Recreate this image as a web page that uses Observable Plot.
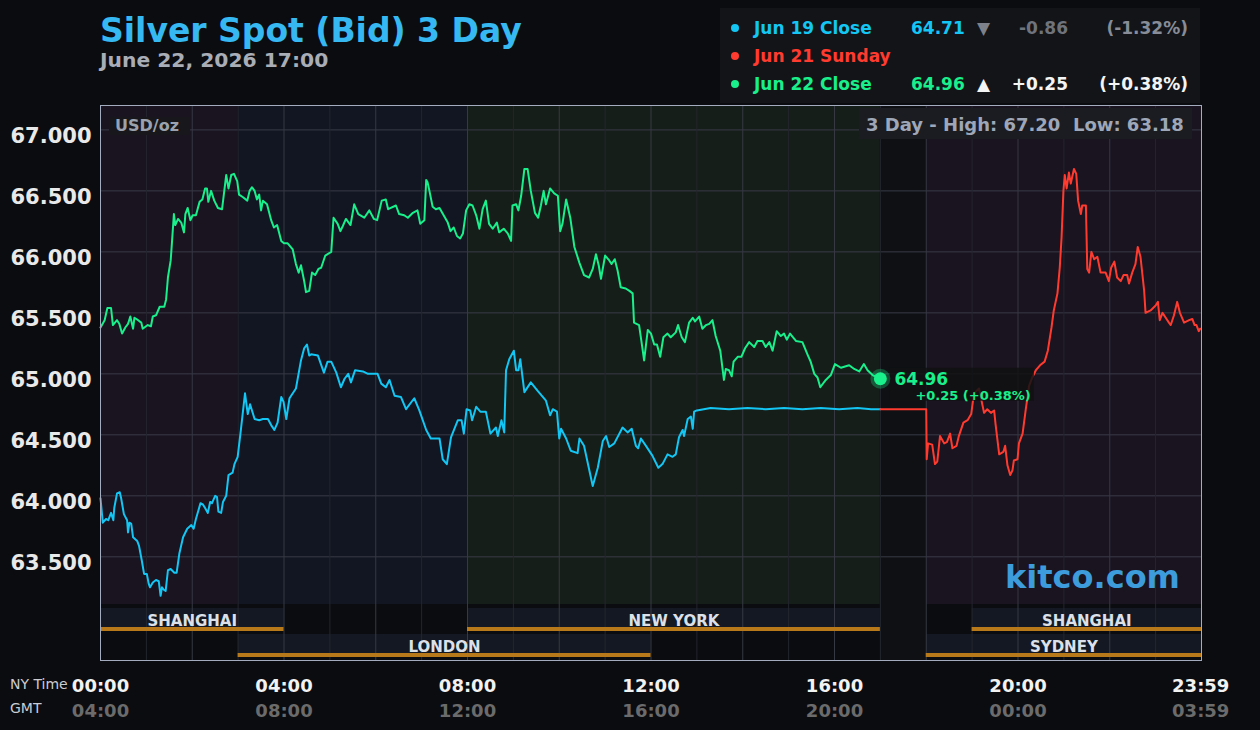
<!DOCTYPE html>
<html><head><meta charset="utf-8">
<script src="https://cdn.jsdelivr.net/npm/d3@7"></script>
<script src="https://cdn.jsdelivr.net/npm/@observablehq/plot@0.6"></script>
<style>
html,body{margin:0;padding:0;background:#0b0c10;}
#wrap{position:relative;width:1260px;height:730px;font-family:"DejaVu Sans",sans-serif;overflow:hidden;background:#0b0c10;}
#wrap svg{position:absolute;left:0;top:0;}
.abs{position:absolute;white-space:pre;box-sizing:border-box;}
</style></head><body><div id="wrap"></div>
<script>
// ---------- DATA ----------
const titleText = "Silver Spot (Bid) 3 Day";
const subtitleText = "June 22, 2026 17:00";
const unitLabel = "USD/oz";
const threeDayHigh = 67.20, threeDayLow = 63.18;

const seriesNames = ["Jun 19 Close", "Jun 21 Sunday", "Jun 22 Close"];
const seriesCloses = ["64.71", "", "64.96"];
const seriesChanges = ["-0.86", "", "+0.25"];
const seriesPercents = ["(-1.32%)", "", "(+0.38%)"];

const yTicks = [63.5, 64.0, 64.5, 65.0, 65.5, 66.0, 66.5, 67.0];
const xTickHours = [0, 4, 8, 12, 16, 20, 23.983];
const nyTickLabels = ["00:00", "04:00", "08:00", "12:00", "16:00", "20:00", "23:59"];
const gmtTickLabels = ["04:00", "08:00", "12:00", "16:00", "20:00", "00:00", "03:59"];

const zoneNames = ["Asia", "London", "New York", "Closed", "Asia"];
const zoneStart = [0, 3, 8, 17, 18];
const zoneEnd = [3, 8, 17, 18, 24];

const sessionRow1Names = ["SHANGHAI", "NEW YORK", "SHANGHAI"];
const sessionRow1Start = [0, 8, 19];
const sessionRow1End = [4, 17, 24];
const sessionRow2Names = ["LONDON", "SYDNEY"];
const sessionRow2Start = [3, 18];
const sessionRow2End = [12, 24];

// Jun 19 (hours NY time, price)
const jun19Hours = [0.00,0.05,0.12,0.17,0.23,0.28,0.30,0.36,0.42,0.45,
0.51,0.58,0.60,0.63,0.67,0.71,0.80,0.84,0.90,0.95,
1.01,1.05,1.08,1.14,1.21,1.27,1.31,1.34,1.38,1.42,
1.47,1.53,1.61,1.66,1.72,1.80,1.89,1.98,2.03,2.08,
2.18,2.23,2.28,2.34,2.39,2.43,2.50,2.54,2.57,2.63,
2.67,2.74,2.79,2.88,2.92,2.99,3.06,3.15,3.21,3.26,
3.36,3.46,3.54,3.65,3.72,3.79,3.86,3.94,3.99,4.05,
4.12,4.26,4.37,4.44,4.50,4.55,4.59,4.74,4.87,4.95,
5.03,5.14,5.24,5.32,5.40,5.46,5.55,5.72,5.83,6.04,
6.12,6.22,6.30,6.41,6.55,6.66,6.84,6.95,7.10,7.20,
7.39,7.46,7.55,7.64,7.79,7.87,7.92,7.98,8.06,8.10,
8.19,8.28,8.40,8.50,8.62,8.66,8.74,8.80,8.84,8.91,
9.01,9.06,9.11,9.15,9.24,9.38,9.53,9.71,9.80,9.86,
9.95,10.00,10.04,10.15,10.25,10.40,10.44,10.54,10.73,10.84,
10.95,11.02,11.09,11.20,11.38,11.49,11.58,11.67,11.72,11.78,
11.89,12.03,12.16,12.25,12.36,12.47,12.54,12.61,12.69,12.72,
12.80,12.87,12.91,12.94,13.00,
13.3,13.7,14.1,14.5,14.9,15.3,15.7,16.1,16.5,16.8,17.00];
const jun19Values = [63.98,63.78,63.81,63.80,63.86,63.80,63.90,64.02,64.03,63.98,
63.85,63.80,63.70,63.78,63.77,63.66,63.63,63.59,63.47,63.36,
63.36,63.28,63.25,63.29,63.31,63.30,63.18,63.25,63.23,63.22,
63.39,63.40,63.37,63.37,63.53,63.66,63.73,63.76,63.73,63.81,
63.94,63.93,63.90,63.86,63.95,63.94,64.00,63.99,63.87,63.86,
63.95,64.00,64.17,64.19,64.26,64.32,64.54,64.84,64.67,64.75,
64.63,64.62,64.63,64.63,64.58,64.54,64.60,64.81,64.77,64.63,
64.80,64.88,65.11,65.21,65.24,65.15,65.16,65.15,65.01,65.10,
65.10,65.01,64.89,64.96,65.00,64.93,65.03,65.02,65.00,65.00,
64.92,64.89,64.95,64.82,64.81,64.71,64.80,64.70,64.54,64.47,
64.47,64.30,64.26,64.48,64.62,64.62,64.51,64.71,64.70,64.62,
64.73,64.69,64.69,64.51,64.56,64.49,64.62,64.52,65.03,65.12,
65.19,65.03,65.03,65.12,64.85,64.93,64.86,64.78,64.66,64.71,
64.69,64.47,64.55,64.47,64.37,64.35,64.47,64.41,64.08,64.23,
64.45,64.49,64.40,64.43,64.56,64.52,64.55,64.41,64.39,64.47,
64.41,64.33,64.23,64.26,64.34,64.32,64.34,64.48,64.54,64.49,
64.63,64.65,64.55,64.69,64.70,
64.72,64.71,64.72,64.71,64.72,64.71,64.72,64.71,64.72,64.71,64.71];

// Jun 21 Sunday
const jun21Hours = [17.00,18.00,18.01,18.04,18.13,18.19,18.24,18.30,18.39,18.45,
18.52,18.57,18.66,18.71,18.81,18.90,18.98,19.04,19.15,19.26,
19.33,19.41,19.48,19.51,19.59,19.68,19.72,19.77,19.83,19.88,
19.91,19.99,20.02,20.10,20.17,20.24,20.31,20.39,20.48,20.58,
20.65,20.73,20.78,20.86,20.91,20.95,20.99,21.02,21.06,21.11,
21.15,21.22,21.27,21.31,21.37,21.40,21.48,21.51,21.55,21.60,
21.66,21.73,21.80,21.91,21.98,22.03,22.10,22.16,22.24,22.30,
22.38,22.42,22.49,22.56,22.61,22.67,22.75,22.78,22.89,23.00,
23.05,23.09,23.15,23.22,23.29,23.33,23.40,23.47,23.53,23.62,
23.73,23.80,23.85,23.89,23.94,23.97];
const jun21Values = [64.71,64.71,64.30,64.43,64.42,64.26,64.28,64.49,64.43,64.44,
64.51,64.39,64.41,64.49,64.60,64.62,64.67,64.84,64.88,64.68,
64.71,64.68,64.70,64.59,64.34,64.36,64.41,64.25,64.17,64.21,
64.29,64.30,64.43,64.51,64.71,64.90,64.97,65.03,65.07,65.10,
65.19,65.38,65.52,65.66,65.87,66.12,66.50,66.63,66.52,66.65,
66.56,66.68,66.64,66.42,66.31,66.38,66.38,65.86,65.83,66.00,
65.94,65.96,65.83,65.83,65.76,65.87,65.92,65.79,65.76,65.81,
65.81,65.74,65.83,65.90,66.04,65.96,65.68,65.50,65.52,65.56,
65.59,65.44,65.50,65.46,65.42,65.40,65.48,65.59,65.50,65.42,
65.44,65.45,65.40,65.40,65.35,65.37];

// Jun 22
const jun22Hours = [0.00,0.09,0.15,0.23,0.27,0.36,0.41,0.47,0.54,0.60,
0.65,0.71,0.74,0.82,0.89,0.92,1.03,1.10,1.14,1.21,
1.29,1.39,1.43,1.47,1.53,1.56,1.60,1.63,1.69,1.76,
1.82,1.85,1.90,1.96,2.01,2.08,2.16,2.22,2.28,2.32,
2.35,2.41,2.48,2.56,2.65,2.74,2.79,2.85,2.91,2.98,
3.02,3.10,3.20,3.25,3.30,3.36,3.41,3.46,3.50,3.54,
3.63,3.72,3.78,3.85,3.94,4.00,4.08,4.19,4.26,4.32,
4.37,4.44,4.48,4.55,4.61,4.68,4.75,4.81,4.90,5.03,
5.08,5.17,5.23,5.28,5.35,5.45,5.53,5.62,5.75,5.86,
5.96,6.03,6.13,6.22,6.27,6.44,6.51,6.62,6.70,6.81,
6.91,6.97,7.06,7.10,7.13,7.17,7.24,7.31,7.39,7.48,
7.57,7.63,7.70,7.77,7.84,7.90,7.97,8.04,8.11,8.19,
8.26,8.33,8.40,8.47,8.55,8.64,8.69,8.79,8.88,8.95,
8.98,9.06,9.11,9.17,9.24,9.31,9.38,9.47,9.54,9.60,
9.66,9.71,9.80,9.89,9.97,10.02,10.07,10.15,10.24,10.33,
10.44,10.54,10.65,10.73,10.80,10.86,10.91,11.00,11.09,11.14,
11.21,11.27,11.34,11.45,11.53,11.60,11.63,11.74,11.79,11.85,
11.93,12.00,12.07,12.13,12.20,12.27,12.36,12.43,12.54,12.59,
12.67,12.74,12.83,12.91,12.96,13.05,13.12,13.20,13.27,13.34,
13.41,13.51,13.59,13.63,13.70,13.76,13.80,13.89,13.97,14.05,
14.14,14.25,14.32,14.43,14.50,14.58,14.65,14.74,14.83,14.90,
14.96,15.03,15.16,15.30,15.41,15.48,15.56,15.63,15.69,15.81,
15.92,16.01,16.14,16.32,16.43,16.54,16.64,16.72,16.83,17.00];
const jun22Values = [65.38,65.44,65.54,65.54,65.40,65.44,65.41,65.33,65.38,65.41,
65.47,65.37,65.46,65.44,65.42,65.37,65.40,65.39,65.47,65.48,
65.55,65.55,65.61,65.79,65.93,66.09,66.31,66.22,66.27,66.24,
66.16,66.31,66.36,66.26,66.30,66.30,66.41,66.43,66.52,66.52,
66.41,66.50,66.42,66.36,66.35,66.63,66.52,66.63,66.64,66.58,
66.47,66.45,66.42,66.50,66.53,66.50,66.43,66.47,66.34,66.42,
66.39,66.26,66.20,66.22,66.09,66.07,66.07,66.02,65.90,65.83,
65.89,65.76,65.67,65.68,65.83,65.81,65.86,65.87,65.97,66.00,
66.28,66.23,66.17,66.21,66.27,66.22,66.39,66.31,66.28,66.34,
66.27,66.26,66.42,66.43,66.35,66.38,66.31,66.30,66.28,66.32,
66.34,66.23,66.26,66.59,66.57,66.50,66.37,66.35,66.36,66.30,
66.24,66.17,66.20,66.13,66.11,66.15,66.34,66.39,66.38,66.30,
66.19,66.35,66.42,66.23,66.19,66.24,66.16,66.19,66.15,66.09,
66.38,66.39,66.34,66.46,66.68,66.68,66.50,66.32,66.28,66.38,
66.50,66.39,66.52,66.48,66.46,66.17,66.23,66.43,66.28,66.04,
65.91,65.81,65.79,65.86,65.98,65.89,65.78,65.97,65.93,65.90,
65.94,65.85,65.71,65.70,65.68,65.66,65.42,65.40,65.27,65.11,
65.36,65.33,65.24,65.24,65.14,65.30,65.33,65.30,65.34,65.40,
65.30,65.26,65.42,65.46,65.43,65.47,65.37,65.40,65.41,65.44,
65.31,65.19,64.95,65.04,65.03,64.98,65.10,65.14,65.14,65.21,
65.26,65.22,65.27,65.27,65.22,65.26,65.19,65.35,65.31,65.33,
65.28,65.33,65.27,65.26,65.16,65.10,65.00,64.97,64.89,64.95,
64.99,65.08,65.05,65.07,65.04,65.02,65.08,65.03,64.99,64.96];

// ---------- CHART ----------
const C_BLUE = "#13c6f3", C_RED = "#ff3b2f", C_GREEN = "#19ef8b";
const yTop = 67.2, yBot = 62.65;
const pxToY = px => yTop - (px - 105) * (yTop - yBot) / 555;   // layout helper (band rows)
const zoneFill = {"Asia": "#1a1320", "London": "#111622", "New York": "#161e19", "Closed": "#0e1014"};
const zip = (hs, vs) => d3.range(Math.min(hs.length, vs.length)).map(i => ({h: hs[i], v: vs[i]}));
const blueData = zip(jun19Hours, jun19Values);
const redData = zip(jun21Hours, jun21Values);
const greenData = zip(jun22Hours, jun22Values);
const gLast = greenData[greenData.length - 1];
const nyLabel = new Map(xTickHours.map((h, i) => [h, nyTickLabels[i]]));
const gmtLabel = new Map(xTickHours.map((h, i) => [h, gmtTickLabels[i]]));
const row1 = sessionRow1Names.map((n, i) => ({n, a: sessionRow1Start[i], b: sessionRow1End[i]}));
const row2 = sessionRow2Names.map((n, i) => ({n, a: sessionRow2Start[i], b: sessionRow2End[i]}));
const zones = zoneNames.map((n, i) => ({n, a: zoneStart[i], b: zoneEnd[i]}));

const chart = Plot.plot({
  width: 1260, height: 730,
  marginLeft: 100, marginRight: 59, marginTop: 105, marginBottom: 70,
  x: {domain: [0, 24], label: null},
  y: {domain: [yBot, yTop], label: null},
  color: {type: "identity"},
  style: {background: "transparent", fontFamily: "DejaVu Sans, sans-serif", color: "#e8e8e8", overflow: "visible"},
  marks: [
    Plot.rect(zones, {x1: "a", x2: "b", y1: d => d.n === "Closed" ? yBot : pxToY(604), y2: yTop, fill: d => zoneFill[d.n]}),
    Plot.rect(row1, {x1: "a", x2: "b", y1: pxToY(631), y2: pxToY(608), fill: "#131822"}),
    Plot.rect(row2, {x1: "a", x2: "b", y1: pxToY(657), y2: pxToY(634), fill: "#131822"}),
    Plot.ruleY(yTicks, {stroke: "#393b47", strokeWidth: 1}),
    Plot.ruleX(d3.range(1, 24), {y1: yBot, y2: yTop, stroke: h => h % 2 ? "#24262e" : "#363843"}),
    Plot.text(row1, {x: d => (d.a + d.b) / 2, y: pxToY(627), text: "n", lineAnchor: "bottom", fill: "#dce1e9", fontSize: 15, fontWeight: "bold", dy: -2}),
    Plot.text(row2, {x: d => (d.a + d.b) / 2, y: pxToY(653), text: "n", lineAnchor: "bottom", fill: "#dce1e9", fontSize: 15, fontWeight: "bold", dy: -2}),
    Plot.rect(row1, {x1: "a", x2: "b", y1: pxToY(631), y2: pxToY(627), fill: "#b8791b"}),
    Plot.rect(row2, {x1: "a", x2: "b", y1: pxToY(657), y2: pxToY(653), fill: "#b8791b"}),
    Plot.line(blueData, {x: "h", y: "v", stroke: C_BLUE, strokeWidth: 2}),
    Plot.line(greenData, {x: "h", y: "v", stroke: C_GREEN, strokeWidth: 2}),
    Plot.line(redData, {x: "h", y: "v", stroke: C_RED, strokeWidth: 2}),
    Plot.rect([gLast], {x1: "h", x2: "h", y1: "v", y2: "v", insetLeft: 10, insetRight: -154, insetTop: -10.5, insetBottom: -22.5, fill: "#101213", fillOpacity: 0.85}),
    Plot.dot([gLast], {x: "h", y: "v", r: 10, fill: C_GREEN, fillOpacity: 0.28}),
    Plot.dot([gLast], {x: "h", y: "v", r: 6.5, fill: C_GREEN}),
    Plot.text([gLast], {x: "h", y: "v", text: d => d.v.toFixed(2), dx: 14, dy: 1, textAnchor: "start", fill: C_GREEN, fontSize: 17, fontWeight: "bold"}),
    Plot.text([gLast], {x: "h", y: "v", text: () => `${seriesChanges[2]} ${seriesPercents[2]}`, dx: 35, dy: 17, textAnchor: "start", fill: C_GREEN, fontSize: 13, fontWeight: "bold"}),
    Plot.frame({stroke: "#a3adbf"}),
    Plot.axisY(yTicks, {anchor: "left", tickSize: 0, tickPadding: 9, tickFormat: d => d.toFixed(3), fontSize: 21, fontWeight: "bold", fill: "#e9e9e9", dy: 6, label: null}),
    Plot.axisX(xTickHours, {anchor: "bottom", tickSize: 0, tickPadding: 19, tickFormat: d => nyLabel.get(d), fontSize: 18, fontWeight: "bold", fill: "#f2f2f2", label: null}),
    Plot.axisX(xTickHours, {anchor: "bottom", tickSize: 0, tickPadding: 44, tickFormat: d => gmtLabel.get(d), fontSize: 18, fontWeight: "bold", fill: "#6b6b6b", label: null})
  ]
});

const wrap = document.getElementById("wrap");
wrap.appendChild(chart);
function addDiv(text, css) {
  const d = document.createElement("div");
  d.className = "abs";
  d.textContent = text;
  Object.assign(d.style, css);
  wrap.appendChild(d);
  return d;
}
addDiv(titleText, {left: "100px", top: "14px", fontSize: "33px", lineHeight: "33px", fontWeight: "bold", color: "#36b9f2"});
addDiv(subtitleText, {left: "100px", top: "50px", fontSize: "20.3px", lineHeight: "21px", fontWeight: "bold", color: "#a9adb6"});

// legend
addDiv("", {left: "720px", top: "8px", width: "480px", height: "95px", background: "#121418"});
const baselines = [34, 62, 90];
const rowColors = [C_BLUE, C_RED, C_GREEN];
seriesNames.forEach((name, i) => {
  const b = baselines[i];
  addDiv("", {left: "731px", top: (b - 10.5) + "px", width: "8px", height: "8px", borderRadius: "50%", background: rowColors[i]});
  const base = {top: (b - 14.4) + "px", fontSize: "17px", lineHeight: "17px", fontWeight: "bold"};
  addDiv(name, {...base, left: "754px", color: rowColors[i]});
  if (seriesCloses[i]) {
    const up = seriesChanges[i].startsWith("+");
    const sub = up ? "#f4f4f4" : "#6f737c";
    addDiv(seriesCloses[i], {...base, left: "911px", color: rowColors[i]});
    addDiv(up ? "▲" : "▼", {...base, left: "977px", color: up ? "#f4f4f4" : "#7d818a"});
    addDiv(seriesChanges[i], {...base, left: "958px", width: "110px", textAlign: "right", color: sub});
    addDiv(seriesPercents[i], {...base, left: "1078px", width: "110px", textAlign: "right", color: up ? "#f4f4f4" : "#878c96"});
  }
});

addDiv(unitLabel, {left: "109px", top: "117px", width: "81px", height: "18px", paddingLeft: "6px", fontSize: "16px", lineHeight: "18px", fontWeight: "bold", color: "#9ba2ae", background: "#17171c"});
addDiv(`3 Day - High: ${threeDayHigh.toFixed(2)}  Low: ${threeDayLow.toFixed(2)}`, {left: "859px", top: "108px", width: "333px", height: "31px", paddingLeft: "7px", paddingTop: "2px", fontSize: "18px", lineHeight: "29px", fontWeight: "bold", color: "#9ea7b8", background: "#1b1c22"});
addDiv("kitco.com", {left: "1005px", top: "561px", fontSize: "32px", lineHeight: "32px", fontWeight: "bold", color: "#3d9cdb"});
addDiv("NY Time", {left: "10px", top: "677px", fontSize: "14px", lineHeight: "14px", color: "#c9ccd2"});
addDiv("GMT", {left: "10px", top: "701px", fontSize: "14px", lineHeight: "14px", color: "#c9ccd2"});
</script>
</body></html>
